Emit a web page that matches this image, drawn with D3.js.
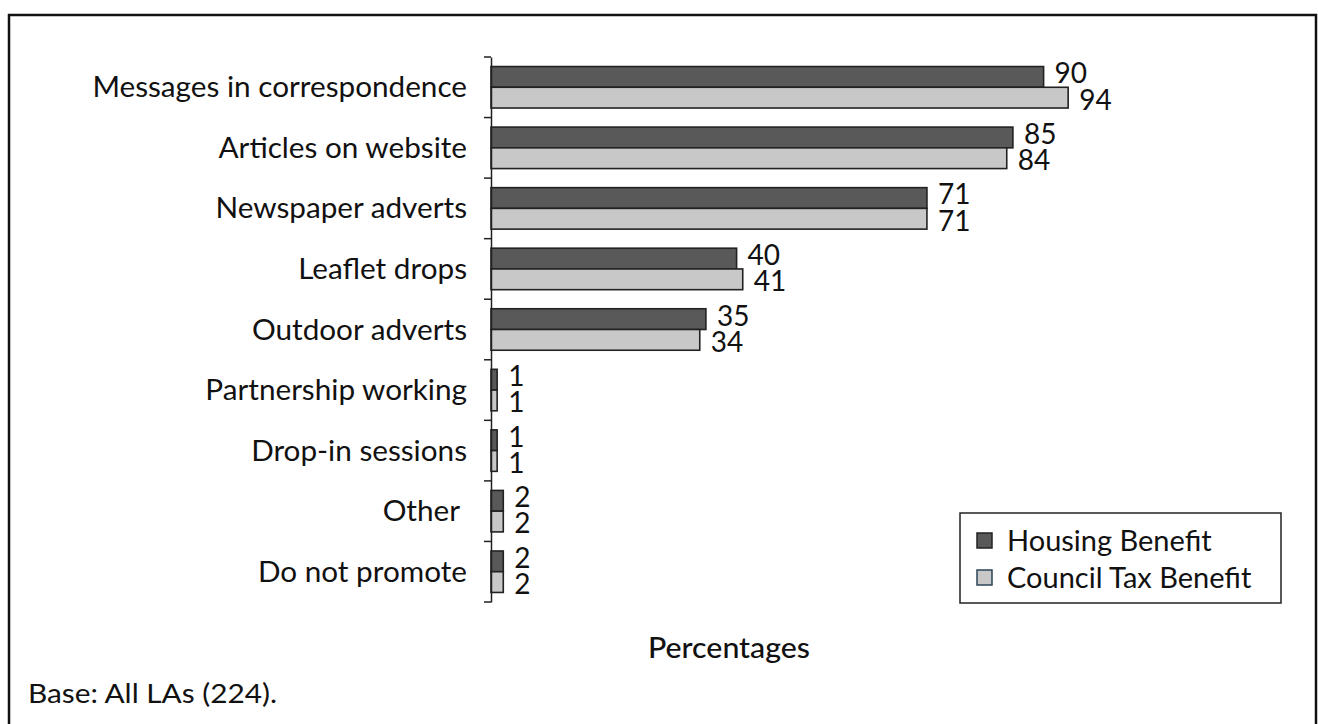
<!DOCTYPE html>
<html><head><meta charset="utf-8">
<script src="https://cdn.jsdelivr.net/npm/d3@7"></script>
<style>body{margin:0;background:#fff;} svg{display:block;} text{font-family:Lato,"Open Sans",sans-serif;fill:#111;}</style>
</head><body>
<svg id="chart" width="1318" height="724"></svg>
<script>
const categories = ["Messages in correspondence","Articles on website","Newspaper adverts","Leaflet drops","Outdoor adverts","Partnership working","Drop-in sessions","Other ","Do not promote"];
const seriesNames = ["Housing Benefit","Council Tax Benefit"];
const housingBenefit = [90,85,71,40,35,1,1,2,2];
const councilTaxBenefit = [94,84,71,41,34,1,1,2,2];
const xLabel = "Percentages";
const baseNote = "Base: All LAs (224).";

const svg = d3.select("#chart");
const fills = ["#595959","#c8c8c8"];
const x = d3.scaleLinear().domain([0,100]).range([491,1105]);
const y = d3.scaleBand().domain(categories).range([57,602]).padding(0);
const inner = d3.scaleBand().domain(seriesNames).range([0,y.bandwidth()]).paddingInner(0).paddingOuter(0.46);

// outer frame
svg.append("rect").attr("x",9).attr("y",15).attr("width",1307).attr("height",730)
  .attr("fill","none").attr("stroke","#111").attr("stroke-width",2.5);

const rows = categories.map((c,i)=>({c, vals:[housingBenefit[i],councilTaxBenefit[i]]}));
const g = svg.selectAll("g.row").data(rows).join("g").attr("class","row")
  .attr("transform",d=>`translate(0,${y(d.c)})`);
g.selectAll("rect").data(d=>d.vals.map((v,j)=>({v,s:seriesNames[j],j}))).join("rect")
  .attr("x",x(0)).attr("y",d=>inner(d.s)).attr("width",d=>x(d.v)-x(0)).attr("height",inner.bandwidth())
  .attr("fill",d=>fills[d.j]).attr("stroke","#222").attr("stroke-width",1.6);
g.selectAll("text.val").data(d=>d.vals.map((v,j)=>({v,s:seriesNames[j],j}))).join("text").attr("class","val")
  .attr("x",d=>x(d.v)+11).attr("y",d=>inner(d.s)+inner.bandwidth()+(d.j===0?-4:1.5))
  .attr("font-size",28).text(d=>d.v);

// axis
const axis = svg.append("g").attr("transform",`translate(${x(0)},0)`)
  .call(d3.axisLeft(y).tickValues([]).tickSize(0).tickSizeOuter(0));
axis.select(".domain").attr("stroke","#222").attr("stroke-width",1.5);
const tickYs = categories.map(c=>y(c)).concat([y.range()[1]]);
svg.selectAll("line.tk").data(tickYs).join("line").attr("class","tk")
  .attr("x1",x(0)-7).attr("x2",x(0)).attr("y1",d=>d).attr("y2",d=>d)
  .attr("stroke","#222").attr("stroke-width",1.5);

// category labels
svg.selectAll("text.cat").data(categories).join("text").attr("class","cat")
  .attr("x",467).attr("y",d=>y(d)+y.bandwidth()/2+10).attr("text-anchor","end")
  .attr("font-size",29.7).style("white-space","pre").text(d=>d);

// legend
const lg = svg.append("g");
lg.append("rect").attr("x",960).attr("y",513).attr("width",321).attr("height",90)
  .attr("fill","#fff").attr("stroke","#222").attr("stroke-width",1.5);
const lstroke = ["#222","#2a4656"];
seriesNames.forEach((s,j)=>{
  lg.append("rect").attr("x",977).attr("y",533+j*37).attr("width",15).attr("height",15)
    .attr("fill",fills[j]).attr("stroke",lstroke[j]).attr("stroke-width",1.5);
  lg.append("text").attr("x",1007).attr("y",551+j*37).attr("font-size",29).text(s);
});

svg.append("text").attr("x",648).attr("y",658).attr("font-size",29).attr("font-weight",500)
  .attr("textLength",162).attr("lengthAdjust","spacingAndGlyphs").text(xLabel);
svg.append("text").attr("x",28).attr("y",703).attr("font-size",26.5)
  .attr("textLength",249).attr("lengthAdjust","spacingAndGlyphs").text(baseNote);
</script>
</body></html>
